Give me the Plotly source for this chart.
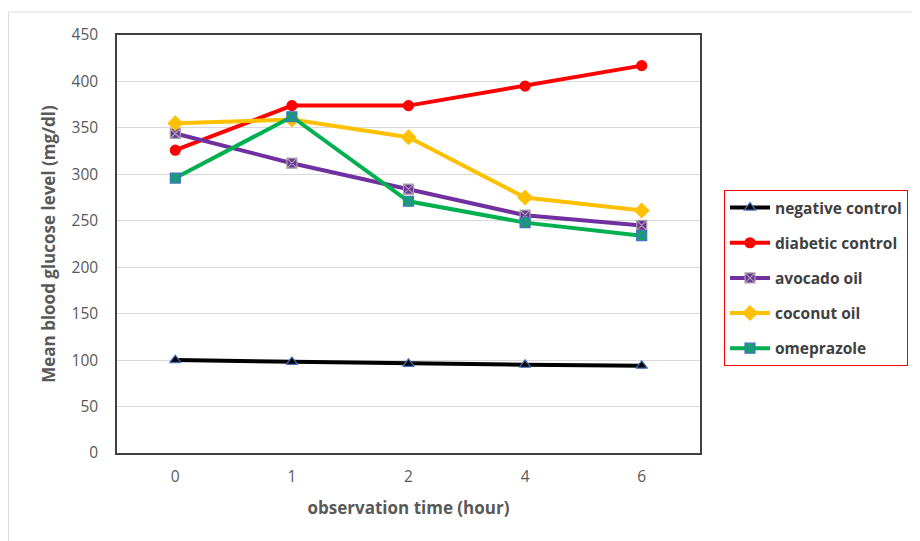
import plotly.graph_objects as go

times = ["0", "1", "2", "4", "6"]
negative_control = [100, 98, 96, 95, 94]
diabetic_control = [326, 374, 374, 395, 417]
avocado_oil = [344, 312, 284, 256, 245]
coconut_oil = [355, 359, 340, 275, 261]
omeprazole = [296, 362, 271, 248, 234]

series = [
    ("negative control", negative_control, "#000000", "triangle-up", "#000000", "#4472C4", 10),
    ("diabetic control", diabetic_control, "#FF0000", "circle", "#FF0000", "#FF0000", 10),
    ("avocado oil", avocado_oil, "#7030A0", "square-x", "#7030A0", "#A5A5A5", 10),
    ("coconut oil", coconut_oil, "#FFC000", "diamond", "#FFC000", "#FFC000", 11),
    ("omeprazole", omeprazole, "#00B050", "square-x", "#00B050", "#4472C4", 10),
]

fig = go.Figure()
for i, (name, vals, col, sym, mcol, lcol, sz) in enumerate(series):
    fig.add_trace(go.Scatter(
        x=times, y=vals, name=f"<b>{name}</b>", mode="lines+markers",
        legendgroup=f"g{i}",
        line=dict(color=col, width=4),
        marker=dict(symbol=sym, color=mcol, size=sz, line=dict(color=lcol, width=1.2)),
    ))

# page is offset by 8px body margin; figure coordinates below
W, H = 912, 533
L, R, T, B = 109, 692, 27, 445
pw, ph = R - L, B - T

fig.update_layout(
    width=W, height=H,
    margin=dict(l=L, r=W - R, t=T, b=H - B, autoexpand=False),
    paper_bgcolor="white", plot_bgcolor="white",
    font=dict(family="Open Sans, Liberation Sans, sans-serif", color="#595959", size=14),
    xaxis=dict(
        type="category", range=[-0.5, 4.5], showgrid=False, ticks="", showline=True, mirror=True,
        linecolor="#404040", linewidth=1.5, tickfont=dict(size=15.5, color="#595959"),
        ticklabelstandoff=9,
        title=dict(text="<b>observation time (hour)</b>", font=dict(size=17, color="#595959"), standoff=16),
    ),
    yaxis=dict(
        range=[0, 450], dtick=50, showgrid=True, gridcolor="#D9D9D9", gridwidth=1,
        showline=True, mirror=True, linecolor="#404040", linewidth=1.5, ticks="",
        zeroline=False, tickfont=dict(size=15.5, color="#595959"), ticklabelstandoff=14,
        title=dict(text="<b>Mean blood glucose level (mg/dl)</b>", font=dict(size=17, color="#595959"), standoff=12),
    ),
    legend=dict(
        x=(716 - L) / pw, y=(B - 182) / ph, xanchor="left", yanchor="top",
        bordercolor="#FF0000", borderwidth=1, bgcolor="white",
        font=dict(size=15.5, color="#404040", family="Open Sans, Liberation Sans, sans-serif"),
        traceorder="grouped", tracegroupgap=12, itemwidth=40,
    ),
    shapes=[dict(
        type="rect", xref="paper", yref="paper",
        x0=(0.5 - L) / pw, x1=(930 - L) / pw, y0=(B - 560) / ph, y1=(B - 4) / ph,
        line=dict(color="#D9D9D9", width=1), layer="below",
    )],
    showlegend=True,
)

fig.write_html("out.html")
